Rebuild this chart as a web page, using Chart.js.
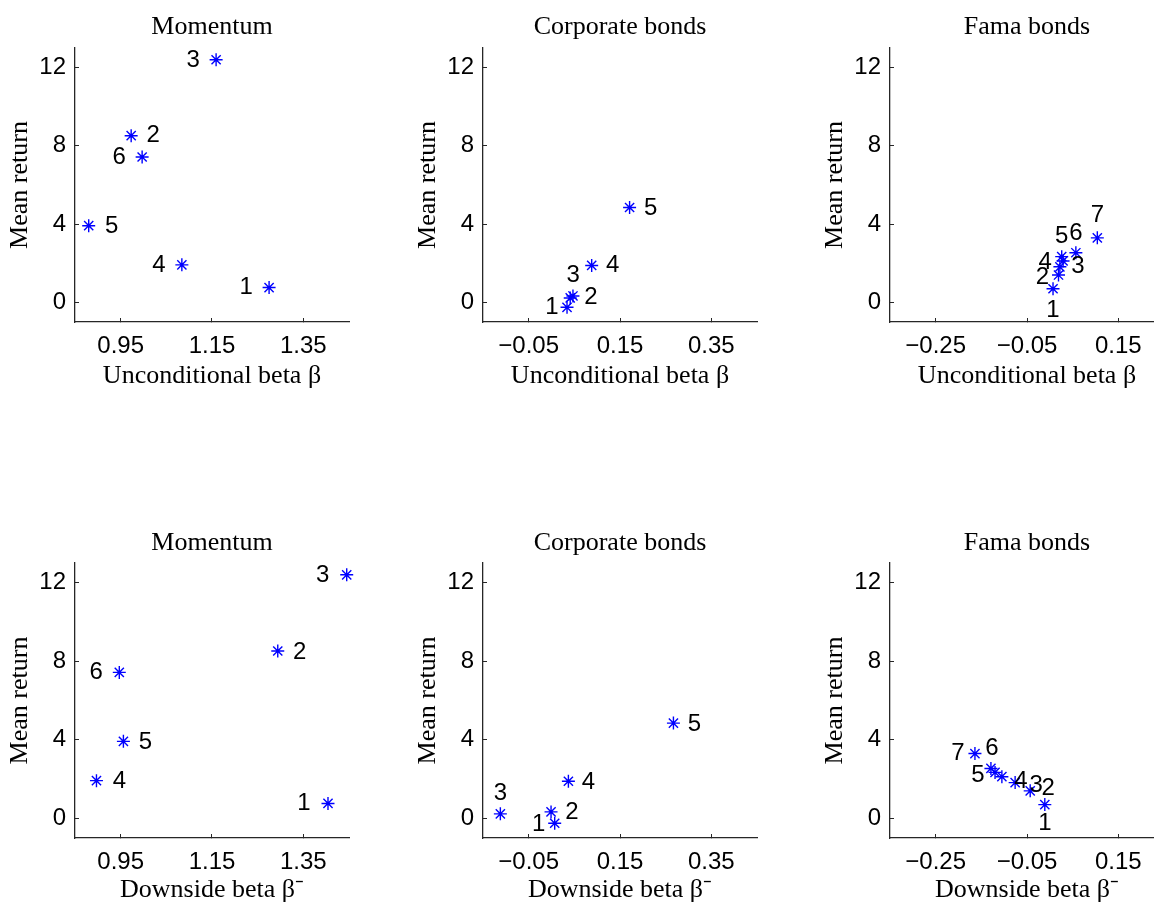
<!DOCTYPE html>
<html><head><meta charset="utf-8">
<script src="https://cdn.jsdelivr.net/npm/chart.js@4.4.1/dist/chart.umd.min.js"></script>
<style>
html,body{margin:0;padding:0;background:#fff;overflow:hidden;width:1154px;height:905px;position:relative;}
canvas{position:absolute;}
</style></head><body>
<canvas id="c1"></canvas><canvas id="c2"></canvas><canvas id="c3"></canvas>
<canvas id="c4"></canvas><canvas id="c5"></canvas><canvas id="c6"></canvas>
<script>
// ---------- data ----------
const momentumLabels = ['1','2','3','4','5','6'];
const momentumMean = [0.76, 8.52, 12.40, 1.92, 3.92, 7.43];
const momentumBeta = [1.275, 0.973, 1.159, 1.084, 0.880, 0.997];
const momentumDownBeta = [1.404, 1.294, 1.445, 0.897, 0.956, 0.947];

const corpLabels = ['1','2','3','4','5'];
const corpMean = [-0.25, 0.33, 0.23, 1.89, 4.85];
const corpBeta = [0.034, 0.047, 0.041, 0.088, 0.171];
const corpDownBeta = [0.007, -0.001, -0.112, 0.037, 0.267];

const famaLabels = ['1','2','3','4','5','6','7'];
const famaMean = [0.70, 1.40, 1.82, 2.12, 2.34, 2.54, 3.30];
const famaBeta = [0.007, 0.019, 0.022, 0.029, 0.026, 0.057, 0.104];
const famaDownBeta = [-0.011, -0.043, -0.076, -0.105, -0.120, -0.129, -0.164];

const yTicks = [0, 4, 8, 12];
const momentumXTicks = [0.95, 1.15, 1.35];
const corpXTicks = [-0.05, 0.15, 0.35];
const famaXTicks = [-0.25, -0.05, 0.15];

const titles = ['Momentum', 'Corporate bonds', 'Fama bonds'];
const xTitleUncond = 'Unconditional beta \u03B2';
const xTitleDown = 'Downside beta \u03B2\u207B';
const yTitle = 'Mean return';

// ---------- label placement (pixel offsets from marker) ----------
const offP1 = [[-23,0],[22,0],[-23,1],[-23,1],[23,1],[-23,0]];
const offP2 = [[-15,0],[18,1],[3,-23],[21,0],[21,1]];
const offP3 = [[0,22],[-16,2],[18,0],[-18,1],[0,-20],[0,-19],[0,-22]];
const offP4 = [[-24,0],[22,1],[-24,1],[23,1],[22,1],[-23,0]];
const offP5 = [[-16,1],[21,0],[0,-20],[20,1],[21,1]];
const offP6 = [[0,19],[18,-2],[21,3],[19,5],[-17,3],[1,-20],[-17,0]];

// ---------- rendering ----------
Chart.defaults.font.family = '"Liberation Sans", Arial, sans-serif';
const AXIS = '#262626';
const SERIF = '"Liberation Serif", "Times New Roman", serif';

const numberLabels = {
  id: 'numberLabels',
  afterDatasetsDraw(chart, args, opts) {
    const ctx = chart.ctx;
    const meta = chart.getDatasetMeta(0);
    ctx.save();
    ctx.font = '24px "Liberation Sans", Arial, sans-serif';
    ctx.fillStyle = '#000';
    ctx.textAlign = 'center';
    ctx.textBaseline = 'middle';
    meta.data.forEach((pt, i) => {
      const o = opts.offsets[i];
      ctx.fillText(opts.labels[i], pt.x + o[0], pt.y + o[1]);
    });
    ctx.restore();
  }
};

function fmtX(v) {
  return (v < 0 ? '\u2212' : '') + Math.abs(v).toFixed(2);
}

function makePanel(id, left, top, chartH, xs, ys, labels, xTicks, xMin, xMax, title, xTitle, offsets, titlePad, xTitlePadBottom) {
  const cv = document.getElementById(id);
  const W = 75 + 274 + 10;
  const H = 48 + chartH + 80;
  cv.width = W; cv.height = H;
  cv.style.left = left + 'px'; cv.style.top = top + 'px';
  cv.style.width = W + 'px'; cv.style.height = H + 'px';
  const grid = {drawOnChartArea: false, drawTicks: true, tickLength: -4, color: AXIS, lineWidth: 1};
  const border = {display: true, color: AXIS, width: 1.3};
  new Chart(cv, {
    type: 'scatter',
    data: {
      datasets: [{
        data: xs.map((x, i) => ({x: x, y: ys[i]})),
        pointStyle: 'star',
        pointRadius: 6.5,
        pointHoverRadius: 6.5,
        borderColor: '#0000ff',
        backgroundColor: '#0000ff',
        borderWidth: 1.4,
        clip: false
      }]
    },
    options: {
      responsive: false,
      animation: false,
      devicePixelRatio: 1,
      events: [],
      layout: {padding: {left: 0, right: 10, top: 0, bottom: 0}},
      plugins: {
        legend: {display: false},
        tooltip: {enabled: false},
        title: {display: true, text: title, color: '#000', fullSize: false,
                font: {family: SERIF, size: 26, weight: 'normal'},
                padding: titlePad},
        numberLabels: {labels: labels, offsets: offsets}
      },
      scales: {
        x: {
          type: 'linear', min: xMin, max: xMax,
          afterBuildTicks: s => { s.ticks = xTicks.map(v => ({value: v})); },
          afterFit: s => { s.height = 80; },
          ticks: {color: '#000', font: {size: 24}, padding: 13.5, maxRotation: 0,
                  callback: v => fmtX(v)},
          grid: grid, border: border,
          title: {display: true, text: xTitle, color: '#000',
                  font: {family: SERIF, size: 26}, padding: {top: 0, bottom: xTitlePadBottom}}
        },
        y: {
          type: 'linear', min: -1, max: 13,
          afterBuildTicks: s => { s.ticks = yTicks.map(v => ({value: v})); },
          afterFit: s => { s.width = 75; },
          ticks: {color: '#000', font: {size: 24}, padding: 13, callback: v => String(v)},
          grid: grid, border: border,
          title: {display: true, text: yTitle, color: '#000',
                  font: {family: SERIF, size: 26}, padding: {top: 5, bottom: 0}}
        }
      }
    },
    plugins: [numberLabels]
  });
}

const padTop = {top: 11.4, bottom: 5.4};
const padBot = {top: 12.5, bottom: 4.3};
makePanel('c1', 0, 0, 274, momentumBeta, momentumMean, momentumLabels, momentumXTicks, 0.85, 1.45, titles[0], xTitleUncond, offP1, padTop, 10.4);
makePanel('c2', 408, 0, 274, corpBeta, corpMean, corpLabels, corpXTicks, -0.15, 0.45, titles[1], xTitleUncond, offP2, padTop, 10.4);
makePanel('c3', 815, 0, 274, famaBeta, famaMean, famaLabels, famaXTicks, -0.35, 0.25, titles[2], xTitleUncond, offP3, padTop, 10.4);
makePanel('c4', 0, 515, 275, momentumDownBeta, momentumMean, momentumLabels, momentumXTicks, 0.85, 1.45, titles[0], xTitleDown, offP4, padBot, 12.4);
makePanel('c5', 408, 515, 275, corpDownBeta, corpMean, corpLabels, corpXTicks, -0.15, 0.45, titles[1], xTitleDown, offP5, padBot, 12.4);
makePanel('c6', 815, 515, 275, famaDownBeta, famaMean, famaLabels, famaXTicks, -0.35, 0.25, titles[2], xTitleDown, offP6, padBot, 12.4);
</script>
</body></html>
